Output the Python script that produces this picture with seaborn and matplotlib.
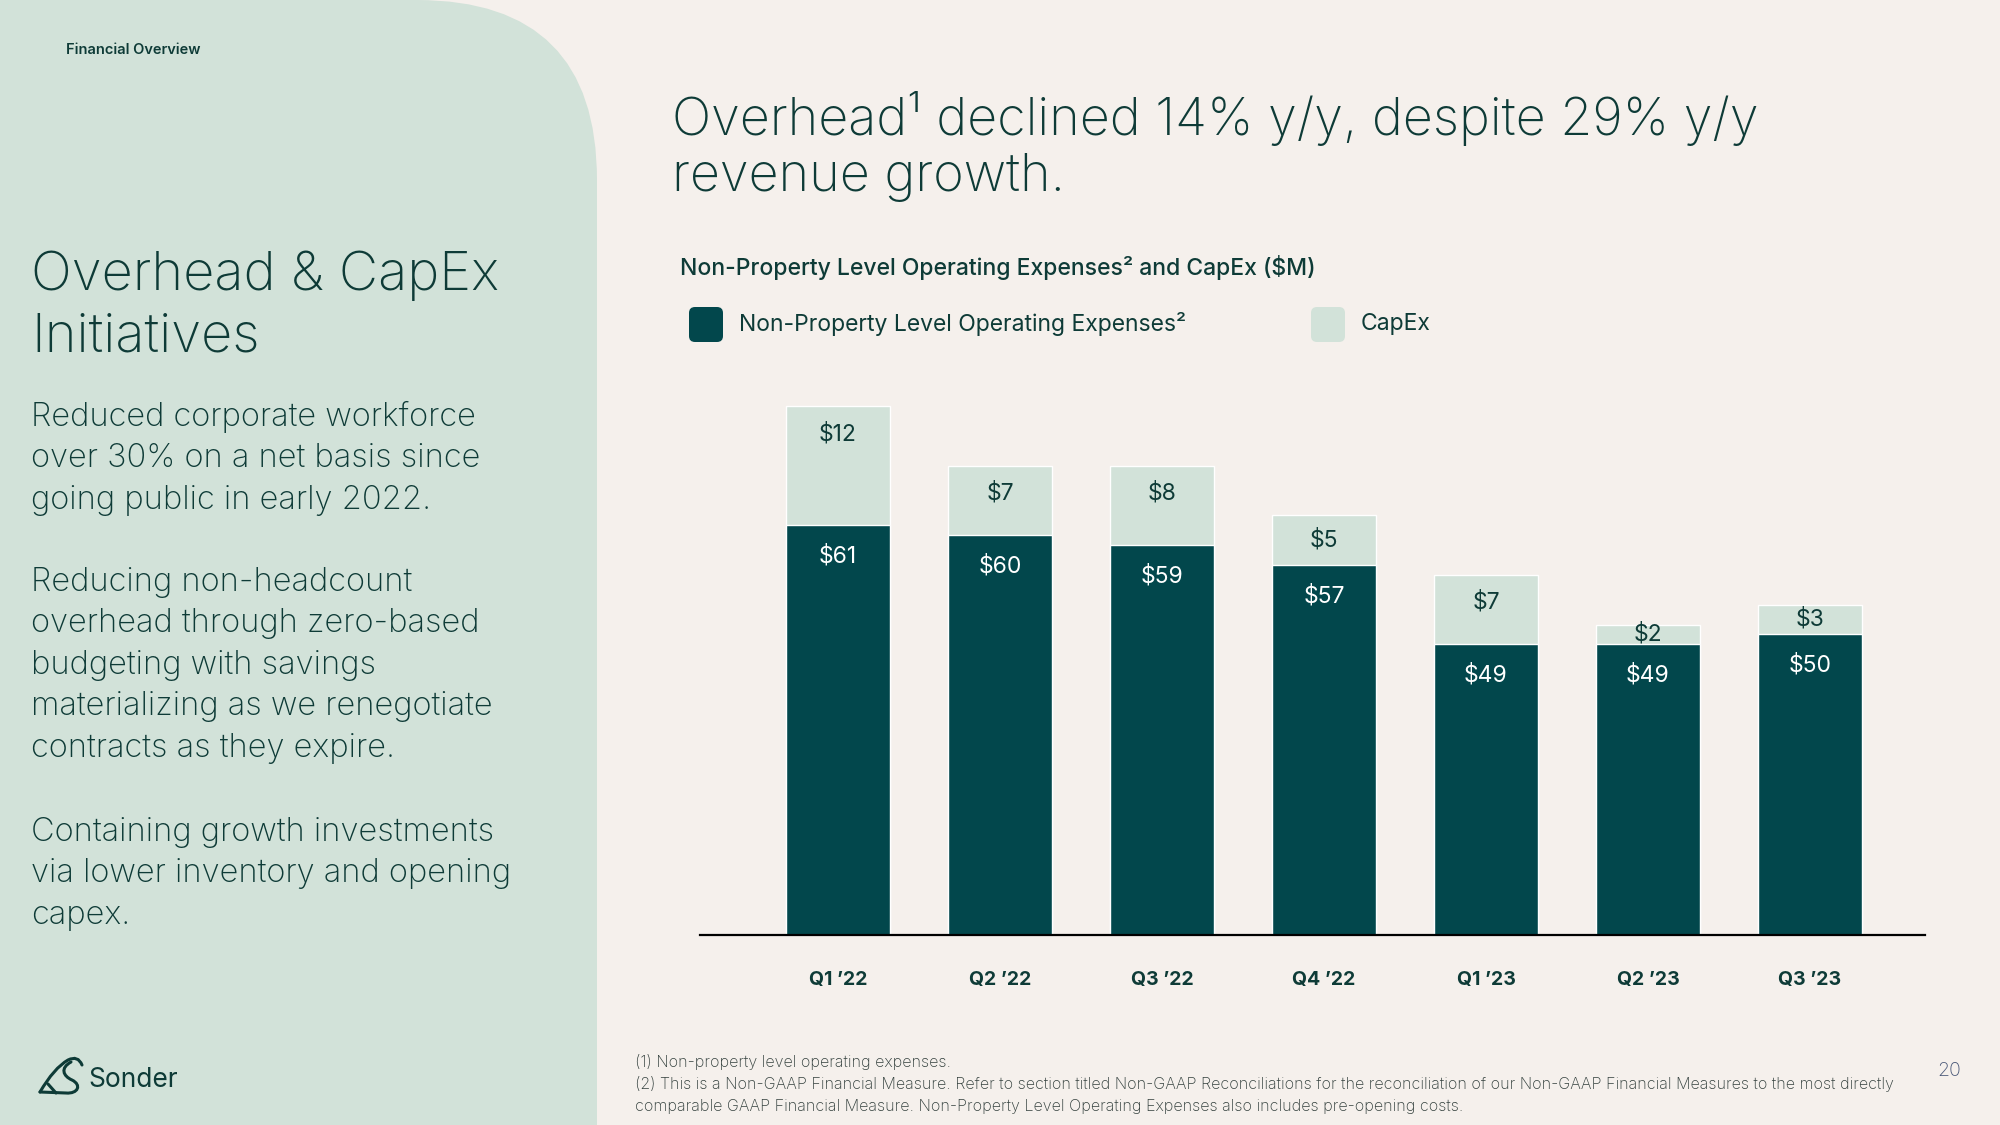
# Overhead & CapEx slide: stacked bars of non-property opex and capex by quarter

import matplotlib
matplotlib.use('Agg')
import matplotlib.pyplot as plt
from matplotlib.patches import FancyBboxPatch, PathPatch
from matplotlib.path import Path
import seaborn as sns
import pandas as pd

# data ($M)
quarters = ["Q1 ’22", "Q2 ’22", "Q3 ’22", "Q4 ’22", "Q1 ’23", "Q2 ’23", "Q3 ’23"]
opex = [61, 60, 59, 57, 49, 49, 50]
capex = [12, 7, 8, 5, 7, 2, 3]

body_lines = [
    ["Reduced corporate workforce", "over 30% on a net basis since", "going public in early 2022."],
    ["Reducing non-headcount", "overhead through zero-based", "budgeting with savings",
     "materializing as we renegotiate", "contracts as they expire."],
    ["Containing growth investments", "via lower inventory and opening", "capex."],
]
footnotes = [
    "(1) Non-property level operating expenses.",
    "(2) This is a Non-GAAP Financial Measure. Refer to section titled Non-GAAP Reconciliations for the "
    "reconciliation of our Non-GAAP Financial Measures to the most directly",
    "comparable GAAP Financial Measure. Non-Property Level Operating Expenses also includes pre-opening costs.",
]

DARK = '#02474C'
LIGHT = '#D2E2D9'
BG = '#F5F0EC'
TEXT = '#0E3B37'

sns.set_style('white')
plt.rcParams['font.family'] = ['Inter', 'DejaVu Sans']

fig = plt.figure(figsize=(20, 11.25), dpi=100)
fig.patch.set_facecolor(BG)

# background layer in pixel coords (y down)
bg = fig.add_axes([0, 0, 1, 1])
bg.set_xlim(0, 2000)
bg.set_ylim(1125, 0)
bg.axis('off')

panel = FancyBboxPatch((-400, 0), 997, 1525, boxstyle='round,pad=0,rounding_size=180',
                       facecolor=LIGHT, edgecolor='none')
bg.add_patch(panel)

bg.text(66, 50, 'Financial Overview', fontsize=10.5, weight='semibold', color=TEXT, va='center')
bg.text(31, 276, 'Overhead & CapEx', fontsize=39, weight='light', color=TEXT, va='center')
bg.text(31, 338, 'Initiatives', fontsize=39, weight='light', color=TEXT, va='center')

y_starts = [417, 582, 832]
for y0, para in zip(y_starts, body_lines):
    for k, line in enumerate(para):
        bg.text(31, y0 + k * 41.6, line, fontsize=23.5, weight='light', color=TEXT, va='center')

bg.text(672, 119, 'Overhead¹ declined 14% y/y, despite 29% y/y', fontsize=37.5, weight='light',
        color=TEXT, va='center')
bg.text(672, 178, 'revenue growth.', fontsize=37.5, weight='light', color=TEXT, va='center')

bg.text(680, 267, 'Non-Property Level Operating Expenses² and CapEx ($M)', fontsize=16.5,
        weight='medium', color=TEXT, va='center')

# legend
for x0, col, label in [(689, DARK, 'Non-Property Level Operating Expenses²'), (1311, LIGHT, 'CapEx')]:
    bg.add_patch(FancyBboxPatch((x0, 307), 34, 35, boxstyle='round,pad=0,rounding_size=6',
                                facecolor=col, edgecolor='none'))
    bg.text(x0 + 50, 324, label, fontsize=16.5, color=TEXT, va='center')

for k, line in enumerate(footnotes):
    bg.text(635, 1062 + k * 22, line, fontsize=11.6, weight='light', color='#33403D', va='center')
bg.text(1937, 1071, '20', fontsize=14, weight='light', color='#4A5878', va='center')

# Sonder logo
verts = [(40, 1092), (54, 1068), (68, 1060), (78, 1055), (82, 1065)]
codes = [Path.MOVETO, Path.CURVE3, Path.CURVE3, Path.CURVE3, Path.CURVE3]
bg.add_patch(PathPatch(Path(verts, codes), fill=False, edgecolor=TEXT, lw=2.2, capstyle='round'))
verts = [(71, 1062), (60, 1068), (63, 1076), (72, 1080), (82, 1085), (78, 1094), (66, 1093), (40, 1092)]
codes = [Path.MOVETO, Path.CURVE4, Path.CURVE4, Path.CURVE4, Path.CURVE4, Path.CURVE4, Path.CURVE4,
         Path.LINETO]
bg.add_patch(PathPatch(Path(verts, codes), fill=False, edgecolor=TEXT, lw=2.2, capstyle='round'))
bg.plot([48, 56], [1084, 1093], color=TEXT, lw=2.2, solid_capstyle='round')
bg.text(88, 1080, 'Sonder', fontsize=19, color=TEXT, va='center')

# chart
df = pd.DataFrame({'quarter': quarters, 'opex': opex, 'capex': capex})
df['total'] = df['opex'] + df['capex']

ax = fig.add_axes([0.35, 1 - 935 / 1125, 0.6125, 555 / 1125])
ax.set_facecolor('none')
sns.barplot(data=df, x='quarter', y='total', color=LIGHT, saturation=1, width=0.64,
            errorbar=None, ax=ax)
sns.barplot(data=df, x='quarter', y='opex', color=DARK, saturation=1, width=0.64,
            errorbar=None, ax=ax)
ax.set_xlim(-0.852, 6.71)
ax.set_ylim(19.7, 75.65)

for i, row in df.iterrows():
    ax.text(i, row['opex'] - 3.1, f"${row['opex']}", ha='center', va='center', color='white',
            fontsize=16.5)
    ax.text(i, row['total'] - min(2.8, row['capex'] / 2), f"${row['capex']}", ha='center',
            va='center', color=TEXT, fontsize=16.5)

for side in ['left', 'right', 'top']:
    ax.spines[side].set_visible(False)
ax.spines['bottom'].set_color('black')
ax.spines['bottom'].set_linewidth(1.6)
ax.set_yticks([])
ax.set_xlabel('')
ax.set_ylabel('')
ax.tick_params(axis='x', length=0, pad=26, labelsize=14, labelcolor=TEXT)
for lbl in ax.get_xticklabels():
    lbl.set_fontweight('bold')

fig.savefig('out.png', dpi=100, facecolor=BG)
